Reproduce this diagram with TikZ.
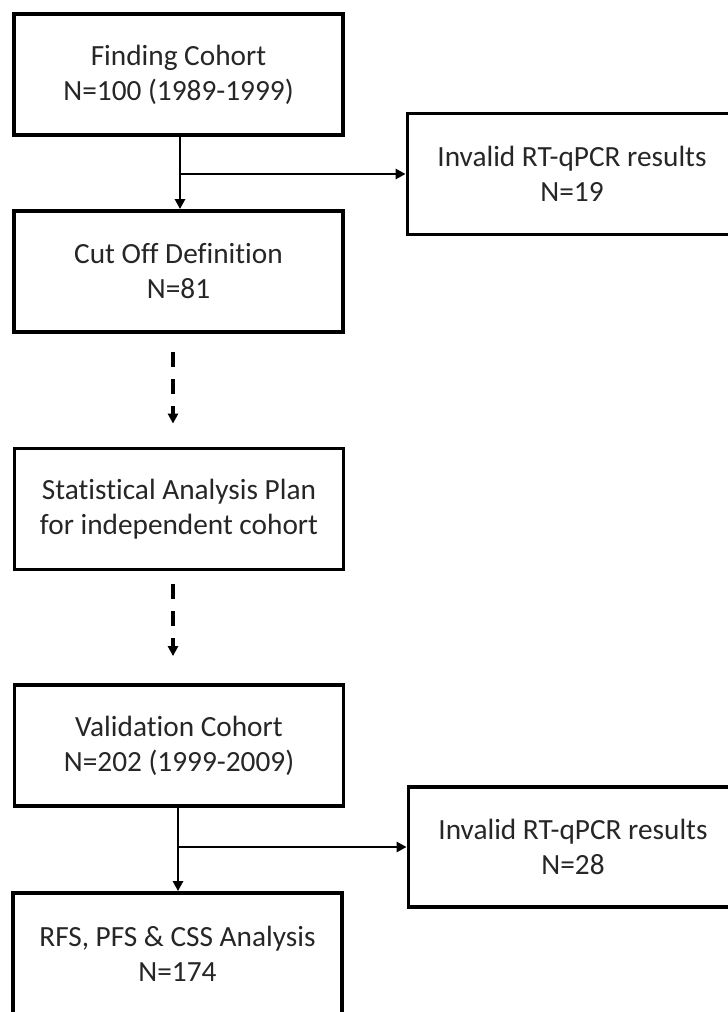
\documentclass[tikz,border=0pt]{standalone}
\usepackage{fontspec}
\setmainfont{Carlito}[Ligatures=NoCommon]
\usetikzlibrary{arrows.meta}

\begin{document}
\begin{tikzpicture}[x=1pt, y=-1pt,
        stagebox/.style={draw, line width=3.8pt, minimum width=329pt, minimum height=121pt,
            align=center, inner sep=0pt, font=\fontsize{29.3}{35}\selectfont, text=black!85},
        flow/.style={line width=2.8pt, -{Triangle[length=10pt,width=10pt]}},
        dashflow/.style={flow, line width=3.2pt, dash pattern=on 15pt off 12pt}]
        \useasboundingbox (0, 0) rectangle (728, 1012);

        \node[stagebox] (finding) at (178.5, 74.5) {Finding Cohort\\N=100 (1989-1999)};
        \node[stagebox] (cutoff) at (178.5, 271.5) {Cut Off Definition\\N=81};
        \node[stagebox] (plan) at (179, 509) {Statistical Analysis Plan\\for independent cohort};
        \node[stagebox] (validation) at (179, 745.5) {Validation Cohort\\N=202 (1999-2009)};
        \node[stagebox] (analysis) at (177.5, 953.5) {RFS, PFS \& CSS Analysis\\N=174};

        \node[stagebox] (invalidA) at (572, 174) {Invalid RT-qPCR results\\N=19};
        \node[stagebox, minimum height=120pt] (invalidB) at (573, 847) {Invalid RT-qPCR results\\N=28};

        \coordinate (splitA) at ([xshift=1.5pt]finding.south |- invalidA.west);
        \coordinate (splitB) at ([xshift=-1pt]validation.south |- invalidB.west);

        \draw[flow] ([xshift=1.5pt]finding.south) -- ([xshift=1.5pt]cutoff.north);
        \draw[flow] (splitA) -- (invalidA.west);

        \draw[dashflow, shorten <=18pt, shorten >=23pt] ([xshift=-5.5pt]cutoff.south) -- ([xshift=-6pt]plan.north);
        \draw[dashflow, shorten <=13pt, shorten >=27pt] ([xshift=-6pt]plan.south) -- ([xshift=-6pt]validation.north);

        \draw[flow] ([xshift=-1pt]validation.south) -- ([xshift=0.5pt]analysis.north);
        \draw[flow] (splitB) -- (invalidB.west);
\end{tikzpicture}
\end{document}
